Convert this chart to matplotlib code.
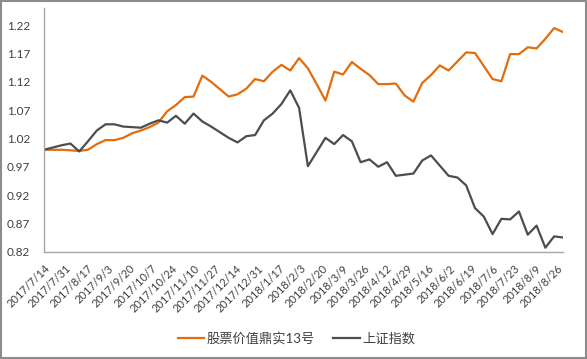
import pandas as pd
import matplotlib
matplotlib.use('Agg')
import matplotlib.pyplot as plt
from matplotlib.patches import Rectangle

plt.rcParams['font.family'] = ['Lato', 'Noto Sans CJK SC', 'DejaVu Sans']

# --- data (weekly, Fridays) ---
start_date = '2017-07-14'
n_weeks = 60

fund_values = [
    1.000, 1.000, 1.000, 0.999, 0.998, 1.000, 1.010, 1.017, 1.017, 1.021,
    1.029, 1.034, 1.040, 1.048, 1.068, 1.079, 1.093, 1.094, 1.131, 1.120,
    1.107, 1.094, 1.098, 1.108, 1.125, 1.121, 1.138, 1.150, 1.140, 1.162,
    1.144, 1.116, 1.087, 1.138, 1.133, 1.155, 1.143, 1.132, 1.116, 1.116,
    1.117, 1.096, 1.085, 1.118, 1.132, 1.149, 1.140, 1.156, 1.172, 1.171,
    1.148, 1.125, 1.121, 1.169, 1.169, 1.181, 1.179, 1.196, 1.215, 1.208,
]

index_values = [
    1.000, 1.004, 1.008, 1.011, 0.997, 1.015, 1.034, 1.045, 1.045, 1.041,
    1.040, 1.039, 1.046, 1.052, 1.048, 1.060, 1.046, 1.064, 1.050, 1.041,
    1.031, 1.021, 1.013, 1.024, 1.026, 1.052, 1.064, 1.081, 1.105, 1.074,
    0.971, 0.996, 1.021, 1.010, 1.026, 1.015, 0.978, 0.983, 0.970, 0.978,
    0.954, 0.956, 0.958, 0.981, 0.990, 0.972, 0.954, 0.951, 0.937, 0.897,
    0.882, 0.851, 0.878, 0.877, 0.891, 0.850, 0.866, 0.827, 0.847, 0.845,
]

series_names = ['股票价值鼎实13号', '上证指数']
y_ticks = [0.82, 0.87, 0.92, 0.97, 1.02, 1.07, 1.12, 1.17, 1.22]

dates = pd.date_range(start_date, periods=n_weeks, freq='7D')
tick_dates = pd.date_range(start_date, '2018-08-26', freq='17D')
tick_labels = [f"{d.year}/{d.month}/{d.day}" for d in tick_dates]

# --- figure ---
fig = plt.figure(figsize=(5.87, 3.59), dpi=100)
ax = fig.add_axes([0.075, 0.299, 0.884, 0.678])

ax.plot(dates, fund_values, color='#E46C0A', linewidth=1.6, label=series_names[0])
ax.plot(dates, index_values, color='#4D4D4D', linewidth=1.6, label=series_names[1])

ax.set_ylim(0.82, 1.25)
ax.set_yticks(y_ticks)
ax.set_yticklabels([f"{v:.2f}" for v in y_ticks])
ax.set_xlim(dates[0], dates[-1])
ax.set_xticks(tick_dates)
ax.set_xticklabels(tick_labels, rotation=45, ha='right', rotation_mode='anchor')

for side in ['top', 'right']:
    ax.spines[side].set_visible(False)
for side in ['left', 'bottom']:
    ax.spines[side].set_color('#A6A6A6')
    ax.spines[side].set_linewidth(1.0)

ax.tick_params(axis='both', length=0, colors='#404040')
ax.tick_params(axis='y', pad=10, labelsize=8.5)
ax.tick_params(axis='x', pad=8, labelsize=8)

fig.legend(loc='center', bbox_to_anchor=(0.505, 0.058), ncol=2, frameon=False,
           fontsize=9.5, handlelength=2.0, handletextpad=0.2, columnspacing=1.4,
           labelcolor='#404040')

# chart area border
fig.patches.append(Rectangle((0.002, 0.003), 0.996, 0.994, transform=fig.transFigure,
                             fill=False, edgecolor='#8C8C8C', linewidth=1.5))

fig.savefig('out.png', dpi=100)
plt.close(fig)
